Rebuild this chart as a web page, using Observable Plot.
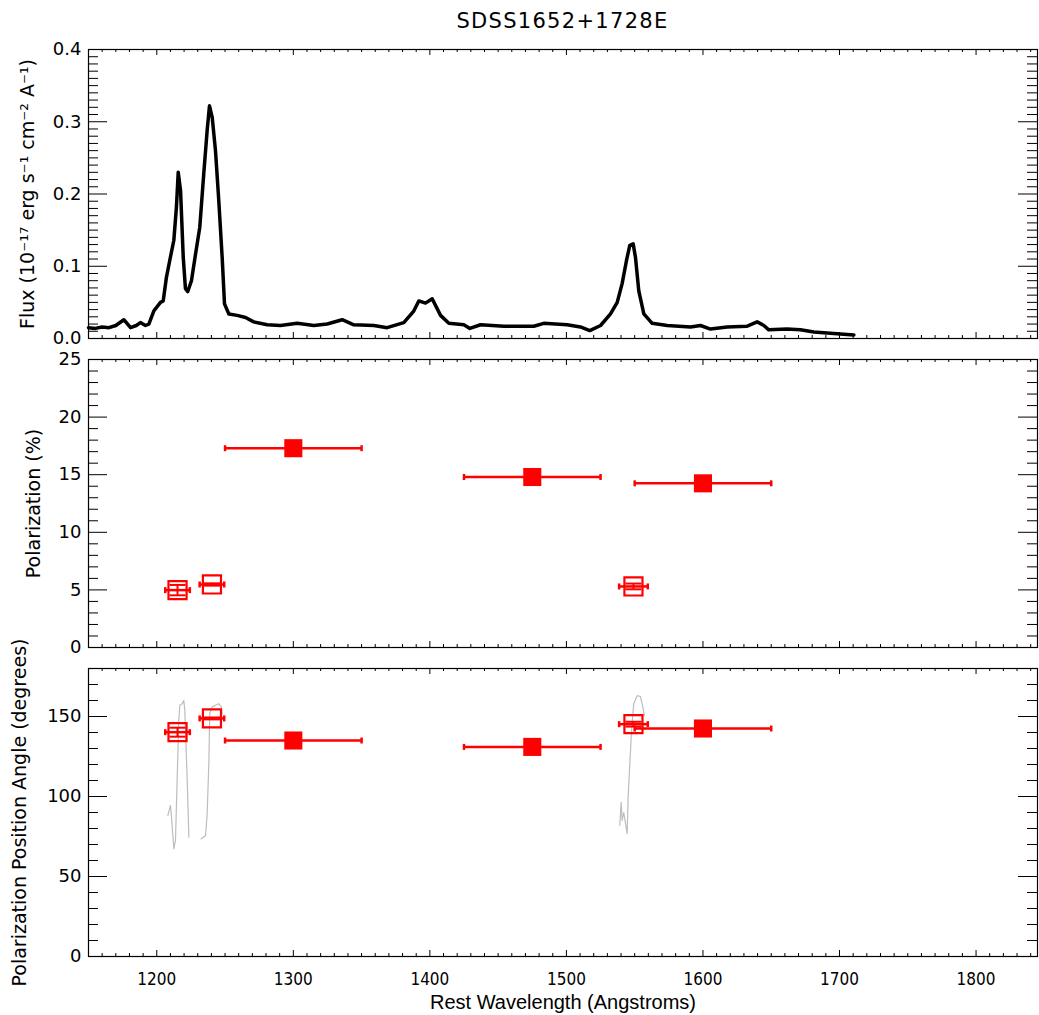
<!DOCTYPE html>
<html><head><meta charset="utf-8">
<script src="https://cdn.jsdelivr.net/npm/d3@7"></script>
<script src="https://cdn.jsdelivr.net/npm/@observablehq/plot@0.6"></script>
<style>
body{margin:0;background:#fff;}
#wrap{position:relative;width:1039px;height:1015px;overflow:hidden;background:#fff;}
#wrap svg{position:absolute;left:0;overflow:visible;}
#title{position:absolute;left:88px;width:949px;top:9px;text-align:center;font:21px "DejaVu Sans";letter-spacing:1.3px;color:#000;}
</style></head><body><div id="wrap"><div id="title">SDSS1652+1728E</div></div>
<script>
// ---------- DATA ----------
// Flux spectrum (rest wavelength, 1e-17 erg/s/cm2/A)
const specWave = [1150,1155,1160,1165,1170,1175.9,1180.8,1185,1188,1191.7,1194.2,1197.8,1202.7,1204.7,1207.1,1209.5,1212.5,1214.4,1215.7,1217.4,1219.4,1221,1222.7,1225.4,1228.4,1231.5,1234.4,1236.9,1238.6,1240.6,1243,1245.4,1247.9,1249.6,1252.8,1258.9,1265,1271,1280.9,1290.6,1302.8,1315,1324.8,1335.8,1344.3,1359,1368.7,1380.9,1388.2,1391.9,1396.8,1401.7,1407.8,1413.9,1424.9,1429.3,1437.1,1454.2,1476.1,1483.4,1500.5,1510.3,1517.1,1525,1532.3,1537.2,1540.8,1544,1546.4,1548.9,1550.6,1553,1556.7,1562.8,1573.8,1590.9,1598.2,1605.5,1617.7,1632.4,1639.7,1644.6,1648.2,1661.6,1671.4,1681.2,1695.8,1710.5];
const specFlux = [0.015,0.014,0.016,0.015,0.018,0.026,0.015,0.018,0.022,0.018,0.020,0.038,0.050,0.052,0.085,0.108,0.136,0.182,0.230,0.205,0.112,0.069,0.065,0.080,0.117,0.154,0.228,0.288,0.322,0.306,0.260,0.191,0.112,0.048,0.034,0.032,0.029,0.023,0.019,0.018,0.021,0.018,0.020,0.026,0.019,0.018,0.015,0.022,0.038,0.052,0.049,0.055,0.032,0.021,0.019,0.014,0.019,0.017,0.017,0.021,0.019,0.016,0.011,0.018,0.034,0.050,0.076,0.108,0.129,0.131,0.112,0.066,0.034,0.021,0.018,0.016,0.018,0.013,0.016,0.017,0.023,0.018,0.012,0.013,0.012,0.009,0.007,0.005];

// Continuum bins (filled squares)
const contWave = [1300, 1475, 1600];
const contHalfWidth = [50, 50, 50];
const contPol = [17.3, 14.8, 14.25];
const contPA = [135, 131, 142.5];

// Emission-line bins (open squares)
const lineWave = [1215.2, 1240.4, 1549.1];
const lineHalfWidth = [9, 9, 10.5];
const linePol = [4.98, 5.47, 5.3];
const linePolErr = [0.45, 0.1, 0.25];
const linePA = [140.2, 148.8, 145.2];
const linePAErr = [2.8, 0.6, 1.5];

// Position angle across the lines (grey traces)
const paWaveLya = [1208.1,1210,1210.8,1212.5,1213.7,1214.9,1216.1,1216.9,1218.6,1219.8,1220.5,1222.3,1223.5];
const paAngLya  = [88,94.4,87,67.3,72.5,110,147.5,157,158,160,154,110,74.6];
const paWaveNV  = [1232.5,1235.7,1236.9,1238.1,1238.8,1240.6,1243,1245.4,1247.2,1247.9];
const paAngNV   = [73.5,75.6,89,120,152,156,157,158,156,152];
const paWaveCIV = [1539.1,1540.1,1540.8,1542,1543.3,1544.5,1545.2,1546.4,1547.7,1549.3,1551.8,1554.2,1555.4,1557.2];
const paAngCIV  = [82,96.4,85,90,83,76.7,99.6,120,141,158,163,162.5,158,150.6];

// Axis ticks
const xMajor = [1200,1300,1400,1500,1600,1700,1800];
const fluxMajor = [0,0.1,0.2,0.3,0.4];
const polMajor = [0,5,10,15,20,25];
const paMajor = [0,50,100,150];

// ---------- BUILD ----------
const RED = "#ff0000";
const X0 = 1150, X1 = 1845;
const W = 1039, ML = 88, MR = 2;
const plotW = W - ML - MR;
const xMinor = d3.range(115, 185).map(i => i * 10).filter(v => v % 100 !== 0 && v >= X0 && v <= X1);

const spec = specWave.map((x, i) => ({x, y: specFlux[i]}));
const cont = contWave.map((x, i) => ({x, x1: x - contHalfWidth[i], x2: x + contHalfWidth[i], pol: contPol[i], pa: contPA[i]}));
const lines = lineWave.map((x, i) => ({x, x1: x - lineHalfWidth[i], x2: x + lineHalfWidth[i], pol: linePol[i], polErr: linePolErr[i], pa: linePA[i], paErr: linePAErr[i]}));
const paTrace = [
  ...paWaveLya.map((x, i) => ({x, y: paAngLya[i], s: "Lya"})),
  ...paWaveNV.map((x, i) => ({x, y: paAngNV[i], s: "NV"})),
  ...paWaveCIV.map((x, i) => ({x, y: paAngCIV[i], s: "CIV"}))
];

const vbar = {draw(ctx, size) { const r = Math.sqrt(size / Math.PI); ctx.moveTo(0, -r); ctx.lineTo(0, r); }};
const hbar = {draw(ctx, size) { const r = Math.sqrt(size / Math.PI); ctx.moveTo(-r, 0); ctx.lineTo(r, 0); }};

function frameMarks(yDom, yMaj, yMin, pxH) {
  const [y0, y1] = yDom;
  const ly = px => px / pxH * (y1 - y0);
  const lx = px => px / plotW * (X1 - X0);
  return [
    Plot.ruleX(xMajor, {x: d => d, y1: y0, y2: y0 + ly(6), stroke: "#000"}),
    Plot.ruleX(xMajor, {x: d => d, y1: y1 - ly(6), y2: y1, stroke: "#000"}),
    Plot.ruleX(xMinor, {x: d => d, y1: y0, y2: y0 + ly(3), stroke: "#000"}),
    Plot.ruleX(xMinor, {x: d => d, y1: y1 - ly(3), y2: y1, stroke: "#000"}),
    Plot.ruleY(yMaj, {y: d => d, x1: X0, x2: X0 + lx(19), stroke: "#000"}),
    Plot.ruleY(yMaj, {y: d => d, x1: X1 - lx(19), x2: X1, stroke: "#000"}),
    Plot.ruleY(yMin, {y: d => d, x1: X0, x2: X0 + lx(10), stroke: "#000"}),
    Plot.ruleY(yMin, {y: d => d, x1: X1 - lx(10), x2: X1, stroke: "#000"}),
    Plot.frame({stroke: "#000", strokeWidth: 1.2})
  ];
}

const baseStyle = {fontFamily: "DejaVu Sans", fontSize: "18px", color: "#000", background: "transparent", overflow: "visible"};
const labelFont = 19;

function place(svg, top) { svg.style.top = top + "px"; document.getElementById("wrap").appendChild(svg); }

// Top panel: flux
{
  const top = 40, ft = 49, fb = 338, h = 305;
  const fluxMinor = d3.range(0, 41).map(i => i / 100).filter(v => Math.round(v * 100) % 10 !== 0);
  const p = Plot.plot({
    width: W, height: h, marginLeft: ML, marginRight: MR, marginTop: ft - top, marginBottom: h - (fb - top),
    style: baseStyle,
    x: {domain: [X0, X1], axis: null, label: null},
    y: {domain: [0, 0.4], label: null},
    marks: [
      ...frameMarks([0, 0.4], fluxMajor, fluxMinor, fb - ft),
      Plot.line(spec, {x: "x", y: "y", stroke: "#000", strokeWidth: 3.5, strokeLinejoin: "round"}),
      Plot.axisY({ticks: fluxMajor, tickSize: 0, tickPadding: 7, tickFormat: d3.format(".1f"), label: null}),
      Plot.axisY({ticks: [], tickSize: 0, fontSize: labelFont,
        label: "Flux (10\u207B\u00B9\u2077 erg s\u207B\u00B9 cm\u207B\u00B2 A\u207B\u00B9)", labelAnchor: "center", labelOffset: 68, labelArrow: "none"})
    ]
  });
  place(p, top);
}

// Middle panel: polarization
{
  const top = 350, ft = 359, fb = 647, h = 305;
  const polMinor = d3.range(0, 26).filter(v => v % 5 !== 0);
  const p = Plot.plot({
    width: W, height: h, marginLeft: ML, marginRight: MR, marginTop: ft - top, marginBottom: h - (fb - top),
    style: baseStyle,
    x: {domain: [X0, X1], axis: null, label: null},
    y: {domain: [0, 25], label: null},
    marks: [
      ...frameMarks([0, 25], polMajor, polMinor, fb - ft),
      Plot.ruleY(cont, {y: "pol", x1: "x1", x2: "x2", stroke: RED, strokeWidth: 2.5}),
      Plot.dot(cont.flatMap(d => [{x: d.x1, y: d.pol}, {x: d.x2, y: d.pol}]), {x: "x", y: "y", symbol: vbar, r: 3, stroke: RED, strokeWidth: 2.5, fill: "none"}),
      Plot.dot(cont, {x: "x", y: "pol", symbol: "square", r: 10.2, fill: RED, stroke: "none"}),
      Plot.ruleY(lines, {y: "pol", x1: "x1", x2: "x2", stroke: RED, strokeWidth: 2.5}),
      Plot.dot(lines.flatMap(d => [{x: d.x1, y: d.pol}, {x: d.x2, y: d.pol}]), {x: "x", y: "y", symbol: vbar, r: 3, stroke: RED, strokeWidth: 2.5, fill: "none"}),
      Plot.ruleX(lines, {x: "x", y1: d => d.pol - d.polErr, y2: d => d.pol + d.polErr, stroke: RED, strokeWidth: 2}),
      Plot.dot(lines.flatMap(d => [{x: d.x, y: d.pol - d.polErr}, {x: d.x, y: d.pol + d.polErr}]), {x: "x", y: "y", symbol: hbar, r: 8, stroke: RED, strokeWidth: 2, fill: "none"}),
      Plot.dot(lines, {x: "x", y: "pol", symbol: "square", r: 10.2, fill: "none", stroke: RED, strokeWidth: 2.2}),
      Plot.axisY({ticks: polMajor, tickSize: 0, tickPadding: 7, label: null}),
      Plot.axisY({ticks: [], tickSize: 0, fontSize: labelFont, label: "Polarization (%)", labelAnchor: "center", labelOffset: 62, labelArrow: "none"})
    ]
  });
  place(p, top);
}

// Bottom panel: position angle
{
  const top = 660, ft = 668, fb = 956, h = 355;
  const paMinor = d3.range(0, 18).map(i => i * 10).filter(v => v % 50 !== 0);
  const p = Plot.plot({
    width: W, height: h, marginLeft: ML, marginRight: MR, marginTop: ft - top, marginBottom: h - (fb - top),
    style: baseStyle,
    x: {domain: [X0, X1], label: null},
    y: {domain: [0, 180], label: null},
    marks: [
      ...frameMarks([0, 180], paMajor, paMinor, fb - ft),
      Plot.line(paTrace, {x: "x", y: "y", z: "s", stroke: "#bdbdbd", strokeWidth: 1.2}),
      Plot.ruleY(cont, {y: "pa", x1: "x1", x2: "x2", stroke: RED, strokeWidth: 2.5}),
      Plot.dot(cont.flatMap(d => [{x: d.x1, y: d.pa}, {x: d.x2, y: d.pa}]), {x: "x", y: "y", symbol: vbar, r: 3, stroke: RED, strokeWidth: 2.5, fill: "none"}),
      Plot.dot(cont, {x: "x", y: "pa", symbol: "square", r: 10.2, fill: RED, stroke: "none"}),
      Plot.ruleY(lines, {y: "pa", x1: "x1", x2: "x2", stroke: RED, strokeWidth: 2.5}),
      Plot.dot(lines.flatMap(d => [{x: d.x1, y: d.pa}, {x: d.x2, y: d.pa}]), {x: "x", y: "y", symbol: vbar, r: 3, stroke: RED, strokeWidth: 2.5, fill: "none"}),
      Plot.ruleX(lines, {x: "x", y1: d => d.pa - d.paErr, y2: d => d.pa + d.paErr, stroke: RED, strokeWidth: 2}),
      Plot.dot(lines.flatMap(d => [{x: d.x, y: d.pa - d.paErr}, {x: d.x, y: d.pa + d.paErr}]), {x: "x", y: "y", symbol: hbar, r: 8, stroke: RED, strokeWidth: 2, fill: "none"}),
      Plot.dot(lines, {x: "x", y: "pa", symbol: "square", r: 10.2, fill: "none", stroke: RED, strokeWidth: 2.2}),
      Plot.axisY({ticks: paMajor, tickSize: 0, tickPadding: 7, label: null}),
      Plot.axisY({ticks: [], tickSize: 0, fontSize: labelFont, label: "Polarization Position Angle (degrees)", labelAnchor: "center", labelOffset: 76, labelArrow: "none", dy: 18}),
      Plot.axisX({ticks: xMajor, tickSize: 0, tickPadding: 16, tickFormat: d => String(d), label: null,
        fontFamily: "'DejaVu Sans Condensed', 'Liberation Sans', sans-serif", fontSize: 17}),
      Plot.axisX({ticks: [], tickSize: 0, fontFamily: "'Liberation Sans', sans-serif", fontSize: 20,
        label: "Rest Wavelength (Angstroms)", labelAnchor: "center", labelOffset: 52, labelArrow: "none"})
    ]
  });
  place(p, top);
}
</script></body></html>
